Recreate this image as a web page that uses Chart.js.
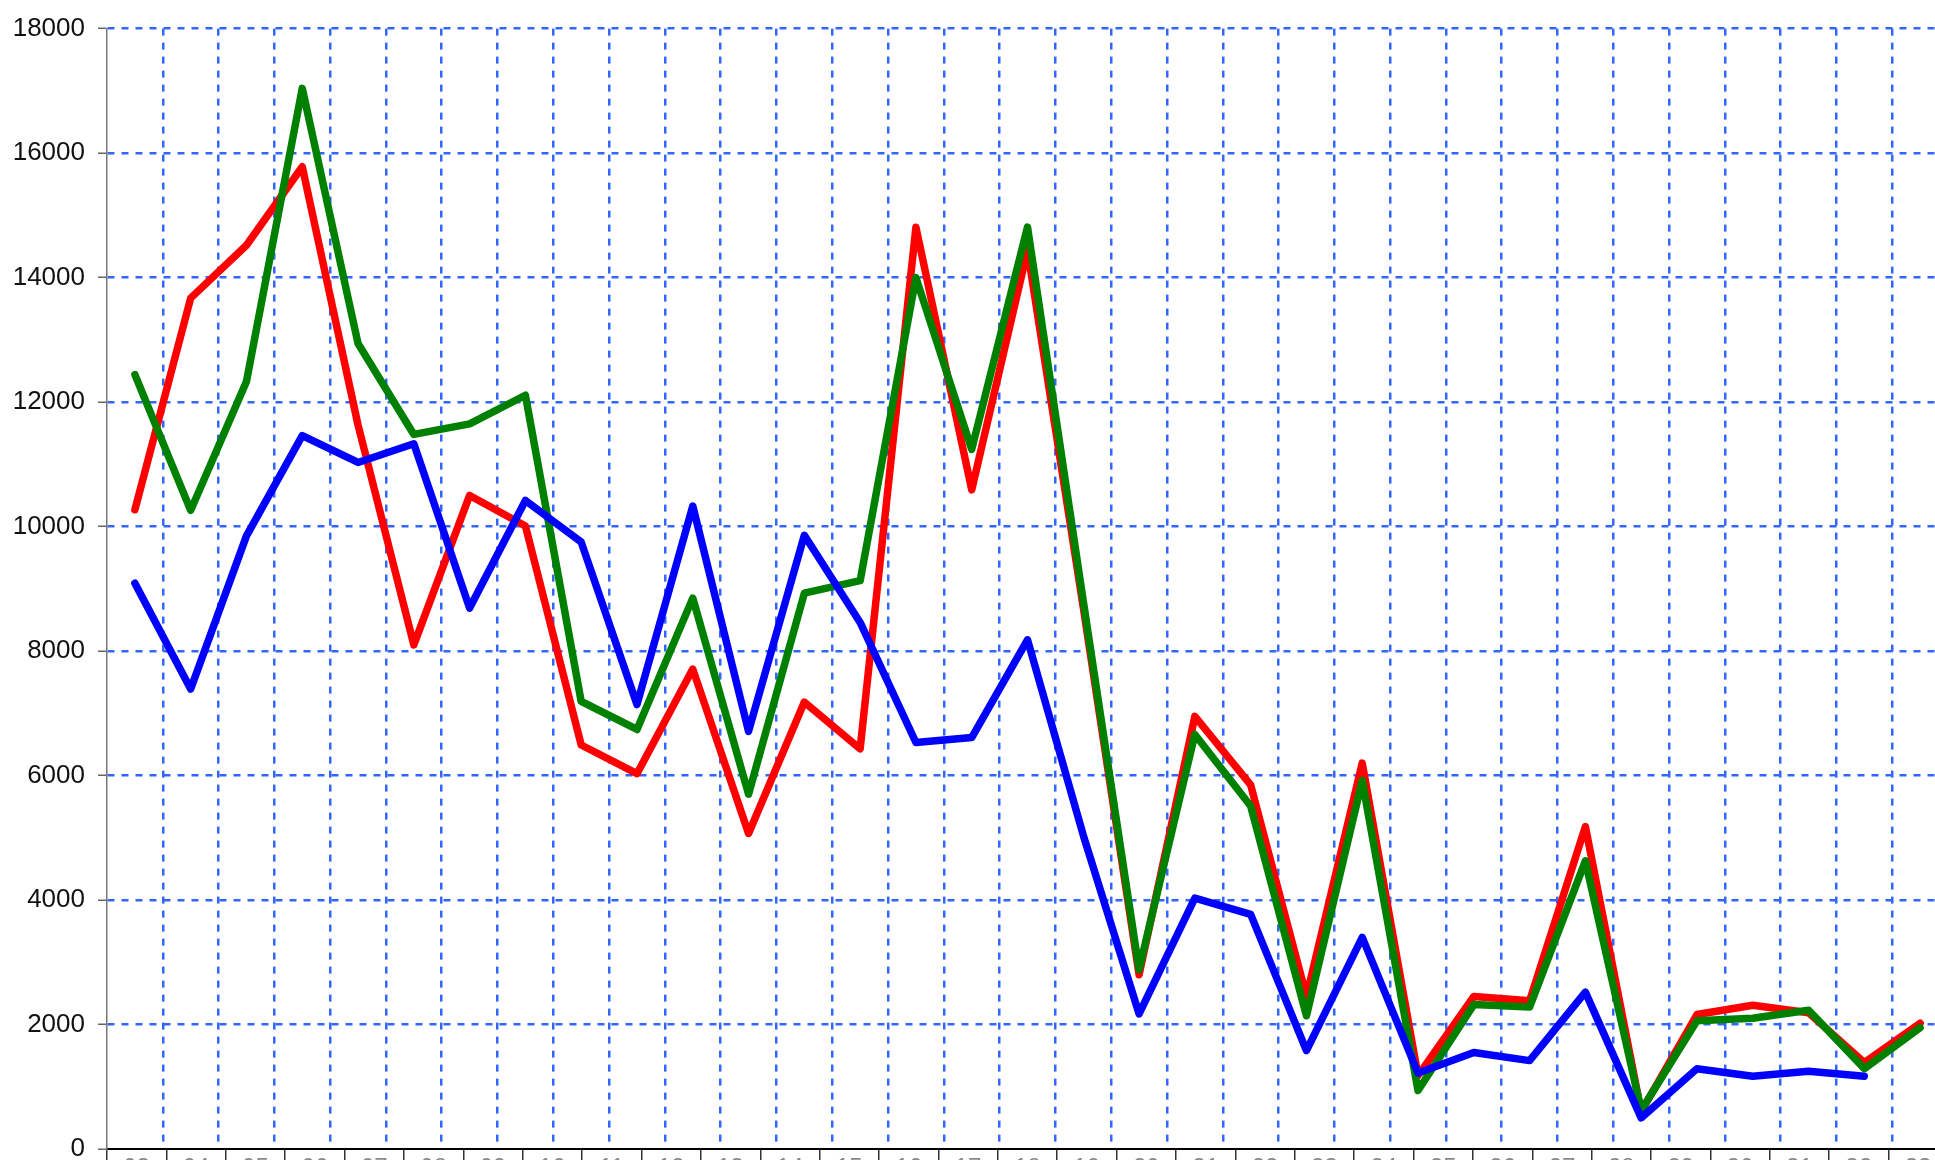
<!DOCTYPE html>
<html>
<head>
<meta charset="utf-8">
<script src="https://cdn.jsdelivr.net/npm/chart.js@4/dist/chart.umd.min.js"></script>
<style>
  html, body { margin: 0; padding: 0; background: #fff; overflow: hidden; }
  canvas { display: block; }
</style>
</head>
<body>
<canvas id="chart" width="1950" height="1200"></canvas>
<script>
// one entry per point along the lines
const categories = ['01', '02', '03', '04', '05', '06', '07', '08', '09', '10', '11',
  '12', '13', '14', '15', '16', '17', '18', '19', '20', '21', '22',
  '23', '24', '25', '26', '27', '28', '29', '30', '31', '32', '33'];

// label boxes under the axis (only their tops show)
const boxLabels = ['03', '04', '05', '06', '07', '08', '09', '10', '11', '12', '13',
  '14', '15', '16', '17', '18', '19', '20', '21', '22', '23', '24',
  '25', '26', '27', '28', '29', '30', '31', '32', '33'];

const redValues = [10270, 13670, 14520, 15780, 11630, 8100, 10500, 10010, 6490, 6030, 7710,
  5070, 7180, 6430, 14810, 10590, 14440, 8700, 2800, 6950, 5850, 2450,
  6200, 1180, 2450, 2380, 5180, 600, 2160, 2310, 2190, 1390, 2020];

const greenValues = [12440, 10260, 12330, 17040, 12940, 11480, 11650, 12110, 7190, 6740, 8850,
  5700, 8930, 9130, 14000, 11240, 14810, 8800, 2880, 6660, 5510, 2140,
  5920, 940, 2320, 2280, 4630, 620, 2060, 2100, 2230, 1290, 1950];

const blueValues = [9090, 7390, 9850, 11460, 11030, 11330, 8690, 10420, 9750, 7140, 10330,
  6710, 9860, 8460, 6530, 6610, 8180, 5040, 2170, 4030, 3770, 1580,
  3400, 1220, 1550, 1420, 2520, 500, 1290, 1170, 1250, 1170, null];

const yMin = 0;
const yMax = 18000;
const yStep = 2000;

const gridBlue = 'rgb(51, 102, 255)';
const font = 'Liberation Sans, Arial, sans-serif';

function line(data, color) {
  return {
    data: data,
    borderColor: color,
    backgroundColor: color,
    borderWidth: 7.5,
    pointRadius: 0,
    borderCapStyle: 'round',
    borderJoinStyle: 'round',
    tension: 0,
    xAxisID: 'x',
    spanGaps: false
  };
}

const chart = document.getElementById('chart');

new Chart(chart, {
  type: 'line',
  data: {
    labels: categories,
    datasets: [
      line(blueValues, '#0000ff'),
      line(greenValues, '#008000'),
      line(redValues, '#ff0000')
    ]
  },
  options: {
    responsive: false,
    animation: false,
    devicePixelRatio: 1,
    layout: { padding: { top: 23, right: 2, left: 0, bottom: 0 } },
    plugins: {
      legend: { display: false },
      tooltip: { enabled: false }
    },
    scales: {
      x: {
        type: 'category',
        offset: true,
        ticks: { display: false },
        grid: {
          offset: true,
          drawTicks: false,
          lineWidth: 2.5,
          color: (c) => c.index === 0 ? 'transparent' : gridBlue
        },
        border: { display: false, dash: [7, 7] },
        afterFit: (scale) => { scale.height = 0; }
      },
      x2: {
        type: 'category',
        position: 'bottom',
        labels: boxLabels,
        offset: true,
        grid: {
          offset: true,
          drawOnChartArea: false,
          tickLength: 40,
          lineWidth: 1.5,
          color: '#333'
        },
        border: { display: true, color: '#000', width: 2 },
        ticks: {
          autoSkip: false,
          maxRotation: 0,
          padding: -35,
          color: '#888',
          font: { family: font, size: 24 }
        },
        afterFit: (scale) => { scale.height = 51; }
      },
      y: {
        min: yMin,
        max: yMax,
        ticks: {
          stepSize: yStep,
          padding: 13,
          color: '#111',
          font: { family: font, size: 26 },
          callback: (v) => String(v)
        },
        grid: {
          lineWidth: 2.5,
          tickLength: 9,
          tickColor: '#666',
          tickWidth: 1.5,
          tickBorderDash: [],
          color: (c) => c.tick && c.tick.value === 0 ? 'transparent' : gridBlue
        },
        border: { display: true, color: '#777', width: 1.5, dash: [7, 7] },
        afterFit: (scale) => { scale.width = 107; }
      }
    }
  }
});
</script>
</body>
</html>
